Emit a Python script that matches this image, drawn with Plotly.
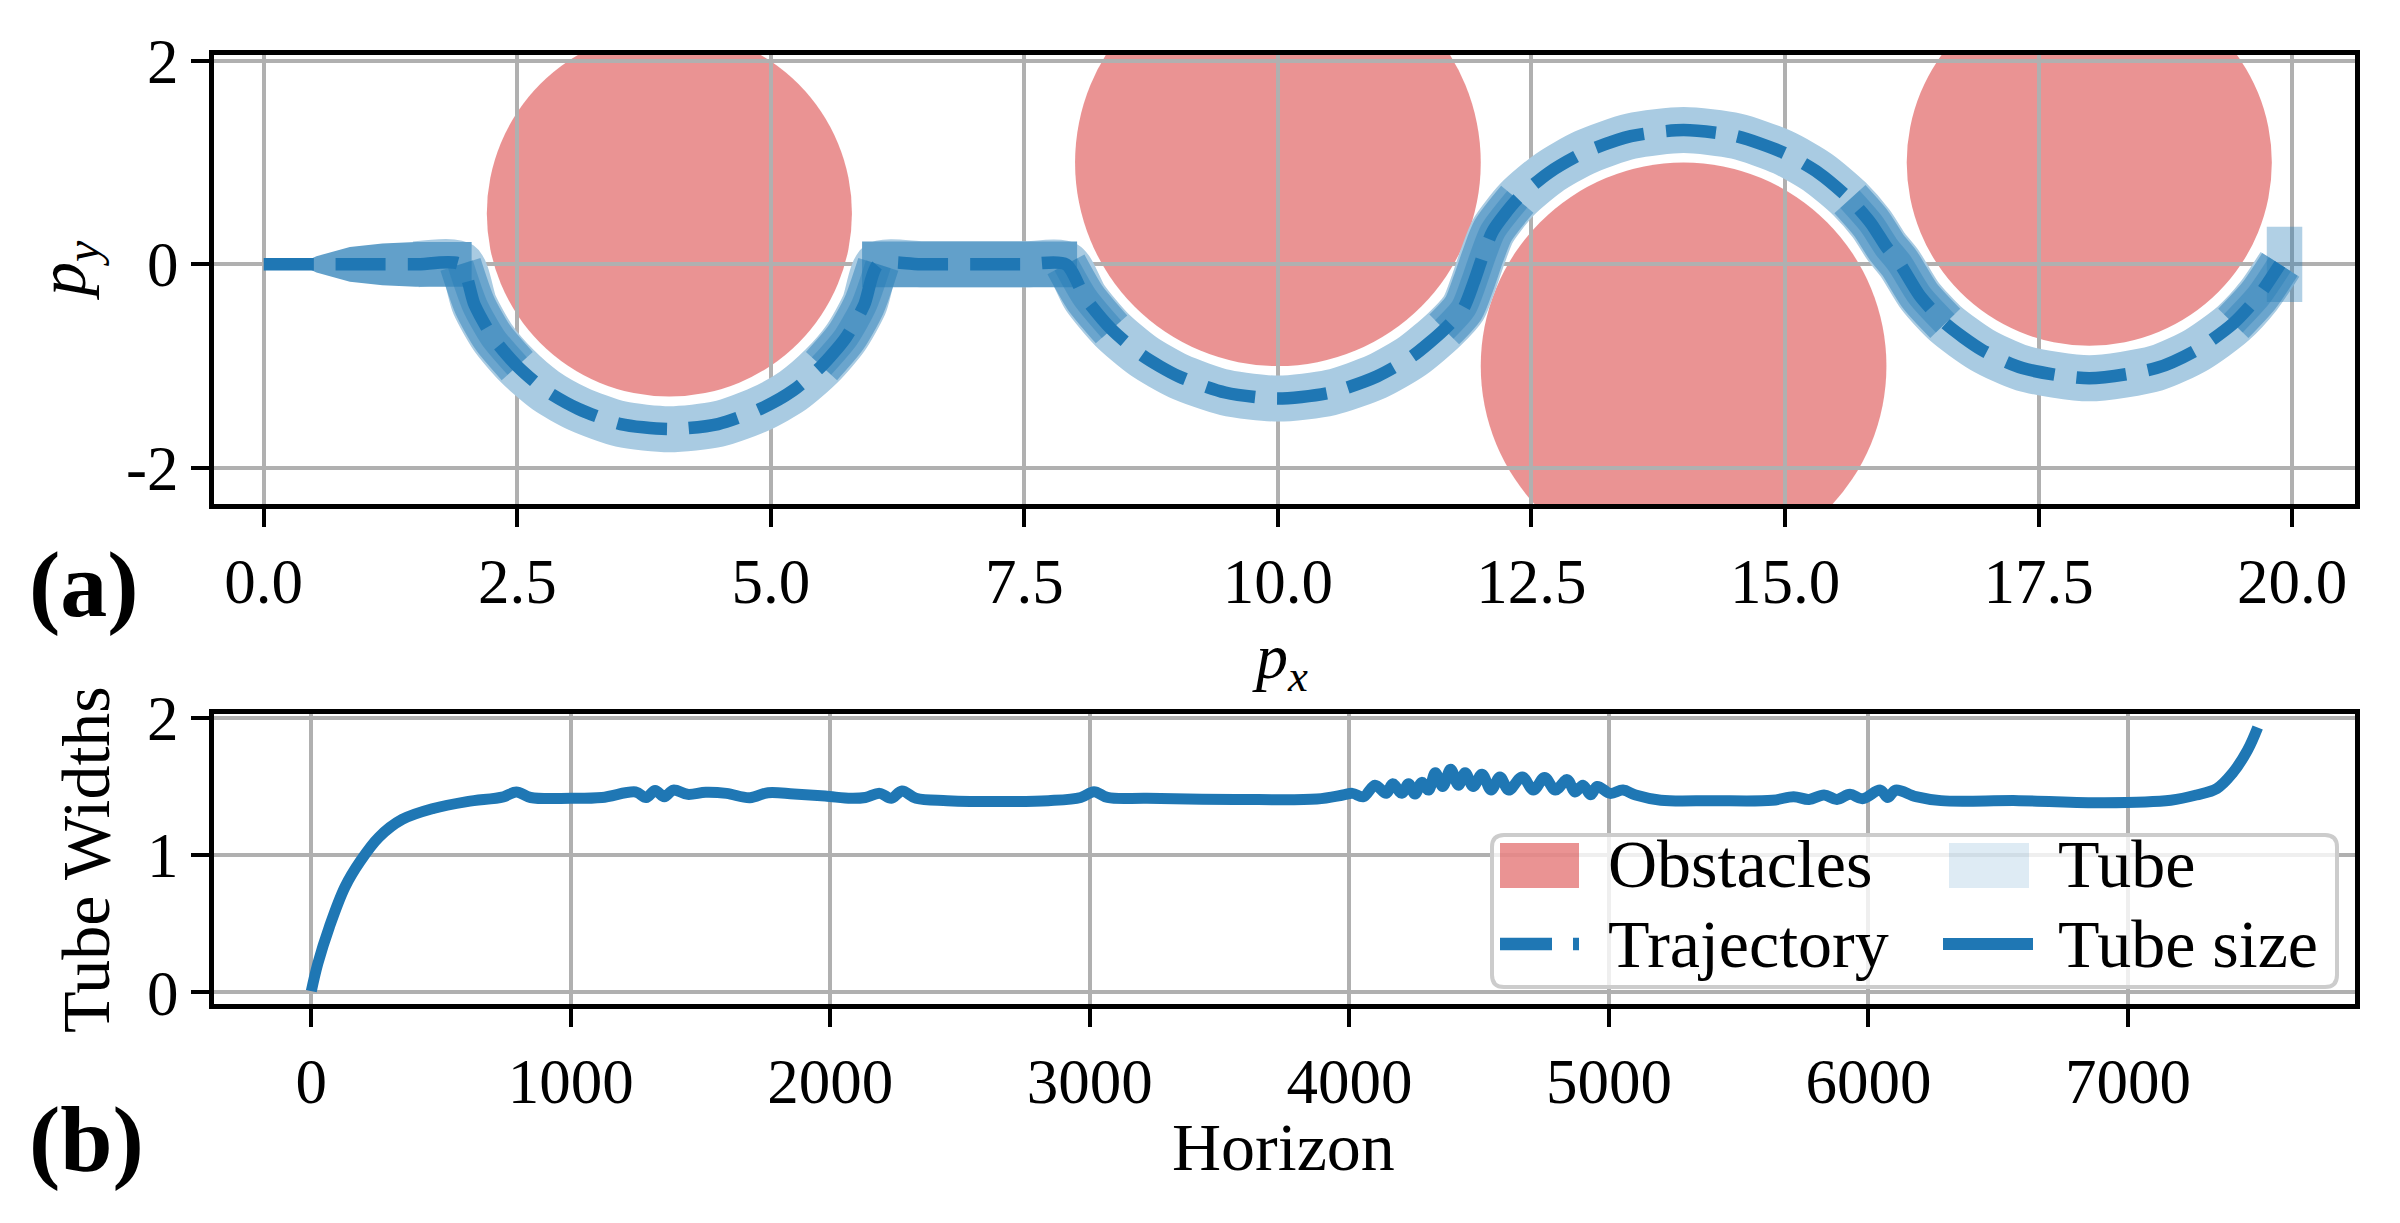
import plotly.graph_objects as go

# ---------------- data ----------------
obs_cx = [4.0, 10.0, 14.0, 18.0]
obs_cy = [0.5, 1.0, -1.0, 1.0]
obs_r = [1.8, 2.0, 2.0, 1.8]

traj_x = [0.0, 0.5, 1.0, 1.5, 1.94, 2.08, 2.26, 2.50, 2.78, 3.10, 3.52, 4.00, 4.48, 4.90,
          5.22, 5.50, 5.74, 5.92, 6.06, 6.5, 7.0, 7.5, 7.91, 8.10, 8.36, 8.67, 9.02, 9.48,
          10.0, 10.52, 10.98, 11.33, 11.64, 11.83, 11.93, 12.02, 12.12, 12.36, 12.67, 13.02,
          13.48, 14.0, 14.52, 14.98, 15.33, 15.64, 15.85, 16.0, 16.13, 16.33, 16.58, 16.94,
          17.34, 18.0, 18.66, 19.06, 19.42, 19.67, 19.88]
traj_y = [0.0, 0.0, 0.0, 0.0, 0.0, -0.40, -0.72, -1.00, -1.24, -1.42, -1.57, -1.62, -1.57, -1.42,
          -1.24, -1.00, -0.72, -0.40, 0.0, 0.0, 0.0, 0.0, 0.0, -0.33, -0.64, -0.90, -1.10, -1.26,
          -1.32, -1.26, -1.10, -0.90, -0.64, -0.43, -0.18, 0.08, 0.33, 0.64, 0.90, 1.10,
          1.26, 1.32, 1.26, 1.10, 0.90, 0.64, 0.40, 0.17, 0.01, -0.31, -0.58, -0.84,
          -1.02, -1.12, -1.02, -0.84, -0.58, -0.31, 0.0]

tube_start_x = [0.35, 0.52, 0.85, 1.17, 1.5, 2.05]
tube_start_half = [0.0, 0.08, 0.17, 0.205, 0.22, 0.22]
tube_flat2_x = [5.9, 8.02]
tube_flat2_half = [0.225, 0.225]
tube_end_x = [19.75, 20.1]
tube_end_half = [0.37, 0.37]

horizon = [0, 25, 70, 130, 190, 260, 350, 470, 600, 740, 790, 845, 1000, 1120, 1250, 1290,
           1325, 1360, 1395, 1450, 1520, 1600, 1690, 1760, 1860, 1980, 2080, 2135, 2190, 2235,
           2276, 2330, 2450, 2650, 2840, 2965, 3016, 3068, 3220, 3560, 3875, 3975, 4012, 4054,
           4099, 4142, 4167, 4202, 4228, 4253, 4279, 4305, 4331, 4360, 4390, 4420, 4446, 4477,
           4511, 4546, 4580, 4614, 4666, 4709, 4752, 4794, 4839, 4870, 4900, 4930, 4955, 5005,
           5054, 5103, 5200, 5400, 5630, 5712, 5771, 5829, 5879, 5929, 5977, 6046, 6075, 6105,
           6183, 6280, 6580, 6910, 7165, 7264, 7343, 7402, 7461, 7500]
tube_width = [0.01, 0.21, 0.48, 0.77, 0.96, 1.13, 1.26, 1.34, 1.39, 1.425, 1.46, 1.42, 1.414,
              1.42, 1.46, 1.42, 1.47, 1.425, 1.474, 1.443, 1.458, 1.45, 1.418, 1.455, 1.445,
              1.43, 1.414, 1.42, 1.45, 1.414, 1.467, 1.414, 1.397, 1.39, 1.397, 1.42, 1.462,
              1.42, 1.414, 1.406, 1.409, 1.438, 1.45, 1.426, 1.51, 1.45, 1.52, 1.45, 1.52,
              1.445, 1.53, 1.474, 1.60, 1.50, 1.625, 1.51, 1.60, 1.50, 1.59, 1.474, 1.57,
              1.474, 1.57, 1.474, 1.565, 1.474, 1.55, 1.46, 1.51, 1.44, 1.50, 1.45, 1.474,
              1.438, 1.40, 1.397, 1.40, 1.426, 1.406, 1.438, 1.406, 1.443, 1.411, 1.474, 1.42,
              1.474, 1.426, 1.397, 1.397, 1.382, 1.40, 1.438, 1.486, 1.595, 1.765, 1.93]

px_ticks = [0, 2.5, 5, 7.5, 10, 12.5, 15, 17.5, 20]
px_ticklabels = ["0.0", "2.5", "5.0", "7.5", "10.0", "12.5", "15.0", "17.5", "20.0"]
py_ticks = [-2, 0, 2]
py_ticklabels = ["-2", "0", "2"]
h_ticks = [0, 1000, 2000, 3000, 4000, 5000, 6000, 7000]
h_ticklabels = ["0", "1000", "2000", "3000", "4000", "5000", "6000", "7000"]
w_ticks = [0, 1, 2]
w_ticklabels = ["0", "1", "2"]

legend_labels = ["Obstacles", "Tube", "Trajectory", "Tube size"]

# ---------------- styling ----------------
W, H = 2400, 1223
FONT = "Liberation Serif, DejaVu Serif, serif"
FS = 63       # tick labels
FSW = 68      # word labels
BLUE = "#1f77b4"
OBS_COLOR = "rgba(214,39,40,0.5)"
TUBE_LIGHT = "#A9CBE2"
TUBE_DARK = "#62A0CA"


def PX(x):
    return x / W


def PY(y):
    return 1 - y / H


fig = go.Figure()

# tube (light band following the trajectory)
fig.add_trace(go.Scatter(x=traj_x[3:], y=traj_y[3:], mode="lines",
                         line=dict(color=TUBE_LIGHT, width=46, shape="spline", smoothing=0.7),
                         hoverinfo="skip", showlegend=False, xaxis="x", yaxis="y"))

# denser parts of the tube (start / flat segment / end)
poly_x = tube_start_x + tube_start_x[::-1]
poly_y = tube_start_half + [-v for v in tube_start_half[::-1]]
fig.add_trace(go.Scatter(x=poly_x, y=poly_y, mode="lines", fill="toself",
                         fillcolor=TUBE_DARK, line=dict(width=0),
                         hoverinfo="skip", showlegend=False, xaxis="x", yaxis="y"))
poly_x = tube_flat2_x + tube_flat2_x[::-1]
poly_y = tube_flat2_half + [-v for v in tube_flat2_half[::-1]]
fig.add_trace(go.Scatter(x=poly_x, y=poly_y, mode="lines", fill="toself",
                         fillcolor=TUBE_DARK, line=dict(width=0),
                         hoverinfo="skip", showlegend=False, xaxis="x", yaxis="y"))
poly_x = tube_end_x + tube_end_x[::-1]
poly_y = tube_end_half + [-v for v in tube_end_half[::-1]]
fig.add_trace(go.Scatter(x=poly_x, y=poly_y, mode="lines", fill="toself",
                         fillcolor="rgba(31,119,180,0.35)", line=dict(width=0),
                         hoverinfo="skip", showlegend=False, xaxis="x", yaxis="y"))

# steep segments of the tube appear denser
ox, oy = [], []
for i in range(len(traj_x) - 1):
    dx = traj_x[i + 1] - traj_x[i]
    dy = traj_y[i + 1] - traj_y[i]
    if abs(dy) > abs(dx):
        if ox and ox[-1] == traj_x[i] and oy[-1] == traj_y[i]:
            ox.append(traj_x[i + 1]); oy.append(traj_y[i + 1])
        else:
            if ox:
                ox.append(None); oy.append(None)
            ox += [traj_x[i], traj_x[i + 1]]
            oy += [traj_y[i], traj_y[i + 1]]
fig.add_trace(go.Scatter(x=ox, y=oy, mode="lines",
                         line=dict(color="rgba(31,119,180,0.45)", width=42, shape="spline",
                                   smoothing=0.7),
                         hoverinfo="skip", showlegend=False, xaxis="x", yaxis="y"))
fig.add_trace(go.Scatter(x=ox, y=oy, mode="lines",
                         line=dict(color="rgba(31,119,180,0.35)", width=26, shape="spline",
                                   smoothing=0.7),
                         hoverinfo="skip", showlegend=False, xaxis="x", yaxis="y"))

# trajectory
fig.add_trace(go.Scatter(x=traj_x, y=traj_y, mode="lines", name="Trajectory",
                         line=dict(color=BLUE, width=12.5, dash="50px,22px", shape="spline",
                                   smoothing=0.7),
                         showlegend=False, xaxis="x", yaxis="y"))

# tube size
fig.add_trace(go.Scatter(x=horizon, y=tube_width, mode="lines", name="Tube size",
                         line=dict(color=BLUE, width=11, shape="spline", smoothing=1.0),
                         showlegend=False, xaxis="x2", yaxis="y2"))

# obstacles as circles below the grid
shapes = []
for cx, cy, r in zip(obs_cx, obs_cy, obs_r):
    shapes.append(dict(type="circle", xref="x", yref="y", x0=cx - r, x1=cx + r,
                       y0=cy - r, y1=cy + r, fillcolor=OBS_COLOR, line=dict(width=0),
                       layer="below"))

# ---- manual legend ----
lx0, lx1, ly0, ly1, rad = 1492, 2337, 835, 987, 12
path = (f"M {PX(lx0+rad)},{PY(ly0)} L {PX(lx1-rad)},{PY(ly0)} Q {PX(lx1)},{PY(ly0)} {PX(lx1)},{PY(ly0+rad)} "
        f"L {PX(lx1)},{PY(ly1-rad)} Q {PX(lx1)},{PY(ly1)} {PX(lx1-rad)},{PY(ly1)} "
        f"L {PX(lx0+rad)},{PY(ly1)} Q {PX(lx0)},{PY(ly1)} {PX(lx0)},{PY(ly1-rad)} "
        f"L {PX(lx0)},{PY(ly0+rad)} Q {PX(lx0)},{PY(ly0)} {PX(lx0+rad)},{PY(ly0)} Z")
shapes.append(dict(type="path", xref="paper", yref="paper", path=path,
                   fillcolor="rgba(255,255,255,0.8)", line=dict(color="#cccccc", width=4),
                   layer="above"))
shapes.append(dict(type="rect", xref="paper", yref="paper", x0=PX(1500), x1=PX(1579),
                   y0=PY(888), y1=PY(843), fillcolor=OBS_COLOR, line=dict(width=0), layer="above"))
shapes.append(dict(type="rect", xref="paper", yref="paper", x0=PX(1949), x1=PX(2029),
                   y0=PY(888), y1=PY(843), fillcolor="rgba(31,119,180,0.15)", line=dict(width=0),
                   layer="above"))
shapes.append(dict(type="line", xref="paper", yref="paper", x0=PX(1500), x1=PX(1552),
                   y0=PY(944), y1=PY(944), line=dict(color=BLUE, width=12.5), layer="above"))
shapes.append(dict(type="line", xref="paper", yref="paper", x0=PX(1573), x1=PX(1579),
                   y0=PY(944), y1=PY(944), line=dict(color=BLUE, width=12.5), layer="above"))
shapes.append(dict(type="line", xref="paper", yref="paper", x0=PX(1943), x1=PX(2033),
                   y0=PY(944), y1=PY(944), line=dict(color=BLUE, width=12), layer="above"))

annotations = []
for txt, x, y in [(legend_labels[0], 1606, 864), (legend_labels[1], 2056, 864),
                  (legend_labels[2], 1606, 944), (legend_labels[3], 2056, 944)]:
    annotations.append(dict(text=txt, x=PX(x), y=PY(y), xref="paper", yref="paper",
                            xanchor="left", yanchor="middle", showarrow=False,
                            font=dict(family=FONT, size=FSW, color="black")))

# axis titles & panel labels
annotations += [
    dict(text="<i>p</i><sub><i>y</i></sub>", x=PX(66), y=PY(270), textangle=-90,
         font=dict(family=FONT, size=FSW, color="black")),
    dict(text="<i>p</i><sub><i>x</i></sub>", x=PX(1280), y=PY(661),
         font=dict(family=FONT, size=64, color="black")),
    dict(text="Tube Widths", x=PX(86), y=PY(860), textangle=-90,
         font=dict(family=FONT, size=FSW, color="black")),
    dict(text="Horizon", x=PX(1283), y=PY(1147),
         font=dict(family=FONT, size=FSW, color="black")),
]
for a in annotations[-4:]:
    a.update(xref="paper", yref="paper", xanchor="center", yanchor="middle", showarrow=False)
annotations += [
    dict(text="<b>(a)</b>", x=PX(84), y=PY(584), xref="paper", yref="paper", showarrow=False,
         xanchor="center", yanchor="middle", font=dict(family=FONT, size=94, color="black")),
    dict(text="<b>(b)</b>", x=PX(86), y=PY(1139), xref="paper", yref="paper", showarrow=False,
         xanchor="center", yanchor="middle", font=dict(family=FONT, size=94, color="black")),
]

axis_common = dict(showline=True, linecolor="black", linewidth=5, mirror=True,
                   ticks="outside", ticklen=18, tickwidth=4, tickcolor="black",
                   showgrid=True, gridcolor="#b0b0b0", gridwidth=4, zeroline=False,
                   tickfont=dict(family=FONT, size=FS, color="black"))

fig.update_layout(
    width=W, height=H, template="none",
    paper_bgcolor="white", plot_bgcolor="white",
    margin=dict(l=0, r=0, t=0, b=0, autoexpand=False),
    showlegend=False,
    xaxis=dict(domain=[PX(214), PX(2355)], range=[-0.49, 20.62], anchor="y",
               tickmode="array", tickvals=px_ticks, ticktext=px_ticklabels, **axis_common),
    yaxis=dict(domain=[PY(504), PY(55)], range=[-2.356, 2.058], anchor="x",
               tickmode="array", tickvals=py_ticks, ticktext=py_ticklabels, **axis_common),
    xaxis2=dict(domain=[PX(214), PX(2355)], range=[-375, 7875], anchor="y2",
                tickmode="array", tickvals=h_ticks, ticktext=h_ticklabels, **axis_common),
    yaxis2=dict(domain=[PY(1004), PY(714)], range=[-0.084, 2.028], anchor="x2",
                tickmode="array", tickvals=w_ticks, ticktext=w_ticklabels, **axis_common),
    shapes=shapes,
    annotations=annotations,
)

fig.write_html("out.html")
